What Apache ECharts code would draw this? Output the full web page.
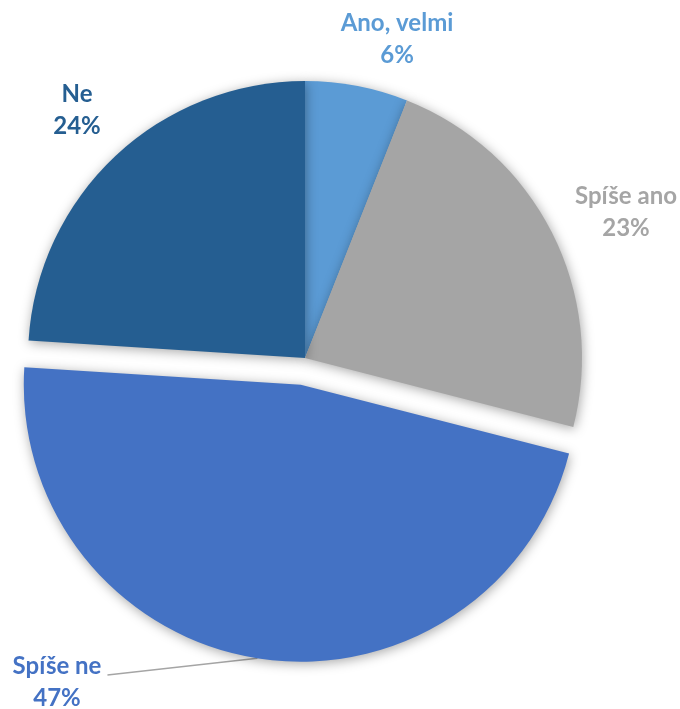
<!DOCTYPE html>
<html>
<head>
<meta charset="utf-8">
<script src="https://cdn.jsdelivr.net/npm/echarts@6/dist/echarts.min.js"></script>
<style>
  html, body { margin: 0; padding: 0; background: #fff; }
  #chart { width: 680px; height: 709px; }
</style>
</head>
<body>
<div id="chart"></div>
<script>
// Survey answers and their shares (%)
const categories = ['Ano, velmi', 'Spíše ano', 'Spíše ne', 'Ne'];
const shares = [6, 23, 47, 24];
const sliceColors = ['#5B9BD5', '#A5A5A5', '#4472C4', '#255E91'];
const pulledOut = 'Spíše ne';

// Label anchor positions (centre of the two-line label), px
const labelSpots = [[397, 39], [626, 212], [57, 682], [77, 110]];

const CX = 305, CY = 358, R = 277, PULL = 27;

// Direction of the pulled-out slice (mid angle, clockwise from 12 o'clock)
const total = shares.reduce((a, b) => a + b, 0);
const pullIdx = categories.indexOf(pulledOut);
const before = shares.slice(0, pullIdx).reduce((a, b) => a + b, 0);
const midAngle = (before + shares[pullIdx] / 2) / total * 2 * Math.PI;
const dirX = Math.sin(midAngle), dirY = -Math.cos(midAngle);
const pulledCenter = [CX + PULL * dirX, CY + PULL * dirY];

const shadow = {
  shadowBlur: 12,
  shadowColor: 'rgba(0,0,0,0.35)',
  shadowOffsetX: 1,
  shadowOffsetY: 2
};
const hidden = {
  color: 'rgba(0,0,0,0)',
  shadowBlur: 0,
  shadowColor: 'rgba(0,0,0,0)'
};

function buildData(showPulled) {
  return categories.map((name, i) => {
    const visible = (name === pulledOut) === showPulled;
    return {
      name: name,
      value: shares[i],
      itemStyle: visible ? Object.assign({ color: sliceColors[i] }, shadow) : hidden,
      label: { show: visible, color: sliceColors[i] },
      labelLine: visible && showPulled
        ? { show: true, lineStyle: { color: '#A5A5A5', width: 1.5 } }
        : { show: false }
    };
  });
}

const labelStyle = {
  position: 'outside',
  formatter: '{b}\n{d}%',
  fontFamily: 'Lato, "Liberation Sans", sans-serif',
  fontWeight: 'bold',
  fontSize: 24,
  lineHeight: 32,
  align: 'center'
};

function placeLabel(params) {
  const p = labelSpots[params.dataIndex];
  const out = { x: p[0], y: p[1], align: 'center', verticalAlign: 'middle' };
  if (categories[params.dataIndex] === pulledOut) {
    const edge = [pulledCenter[0] + R * dirX, pulledCenter[1] + R * dirY];
    const halfW = params.labelRect.width / 2;
    out.labelLinePoints = [edge, [p[0] + halfW + 6, p[1] - 7]];
  }
  return out;
}

const common = {
  type: 'pie',
  radius: R,
  startAngle: 90,
  clockwise: true,
  avoidLabelOverlap: false,
  silent: true,
  emphasis: { disabled: true },
  label: labelStyle,
  labelLayout: placeLabel
};

const chart = echarts.init(document.getElementById('chart'), null, { renderer: 'canvas' });
chart.setOption({
  animation: false,
  backgroundColor: '#ffffff',
  series: [
    Object.assign({}, common, { center: [CX, CY], data: buildData(false) }),
    Object.assign({}, common, { center: pulledCenter, data: buildData(true) })
  ]
});
</script>
</body>
</html>
